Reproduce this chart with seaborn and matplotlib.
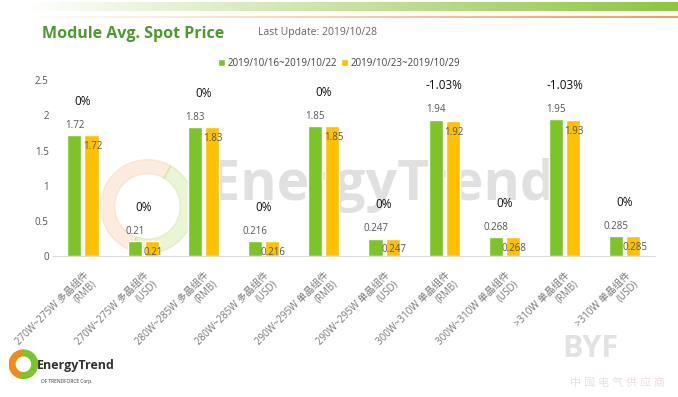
import numpy as np
import pandas as pd
import matplotlib
matplotlib.use('Agg')
from matplotlib import pyplot as plt
from matplotlib.patches import Wedge
import seaborn as sns

# data
categories = ['270W~275W 多晶组件\n(RMB)', '270W~275W 多晶组件\n(USD)',
              '280W~285W 多晶组件\n(RMB)', '280W~285W 多晶组件\n(USD)',
              '290W~295W 单晶组件\n(RMB)', '290W~295W 单晶组件\n(USD)',
              '300W~310W 单晶组件\n(RMB)', '300W~310W 单晶组件\n(USD)',
              '>310W 单晶组件\n(RMB)', '>310W 单晶组件\n(USD)']
week1 = [1.72, 0.21, 1.83, 0.216, 1.85, 0.247, 1.94, 0.268, 1.95, 0.285]
week2 = [1.72, 0.21, 1.83, 0.216, 1.85, 0.247, 1.92, 0.268, 1.93, 0.285]
changes = ['0%', '0%', '0%', '0%', '0%', '0%', '-1.03%', '0%', '-1.03%', '0%']
series_names = ['2019/10/16~2019/10/22', '2019/10/23~2019/10/29']
yticks = [0, 0.5, 1, 1.5, 2, 2.5]

GREEN = '#7DC42A'
YELLOW = '#FFC000'

sns.set_style('white')
plt.rcParams['font.family'] = ['Open Sans', 'Noto Sans CJK SC', 'DejaVu Sans']

df = pd.DataFrame({
    'cat': categories * 2,
    'val': week1 + week2,
    'series': [series_names[0]] * len(categories) + [series_names[1]] * len(categories),
})

fig = plt.figure(figsize=(6.78, 3.97), dpi=100)

# decorative stripes at top
grad = np.linspace(0, 1, 256).reshape(1, -1)
top = fig.add_axes([0.04, 0.972, 0.96, 0.022])
top.imshow(grad, aspect='auto', cmap=matplotlib.colors.LinearSegmentedColormap.from_list('g', ['#FFFFFF', '#8CC63F']))
top.axis('off')
line = fig.add_axes([0.04, 0.955, 0.96, 0.004])
line.imshow(grad, aspect='auto', cmap=matplotlib.colors.LinearSegmentedColormap.from_list('o', ['#FFFFFF', '#F0A050']))
line.axis('off')

ax = fig.add_axes([0.078, 0.355, 0.888, 0.443])

# watermark
fig.text(0.563, 0.534, 'EnergyTrend', fontsize=40, fontweight='bold', color='#BBBBBB',
         alpha=0.45, ha='center', va='center', zorder=0)
wm = fig.add_axes([0.145, 0.355, 0.145, 0.25])
wm.add_patch(Wedge((0, 0), 1, 60, 250, width=0.3, color='#F4A460', alpha=0.2))
wm.add_patch(Wedge((0, 0), 1, 250, 420, width=0.3, color='#9ACD32', alpha=0.2))
wm.set_xlim(-1.05, 1.05)
wm.set_ylim(-1.05, 1.05)
wm.set_aspect('equal')
wm.axis('off')
wm.set_zorder(0)
ax.set_zorder(1)
ax.patch.set_alpha(0)

sns.barplot(data=df, x='cat', y='val', hue='series', palette=[GREEN, YELLOW],
            width=0.565, gap=0.175, ax=ax, legend=True, saturation=1)

green_bars, yellow_bars = ax.containers[0], ax.containers[1]
for b, v in zip(green_bars, week1):
    ax.text(b.get_x() + b.get_width() / 2, v + 0.14, f'{v:g}', ha='center', va='center',
            fontsize=7, color='#555555')
for b, v in zip(yellow_bars, week2):
    ax.text(b.get_x() + b.get_width() / 2 + 0.02, v - 0.16, f'{v:g}', ha='center', va='center',
            fontsize=7, color='#555555')
for i, (c, a, b) in enumerate(zip(changes, week1, week2)):
    ax.text(i, max(a, b) + 0.48, c, ha='center', va='center', fontsize=8.5, color='#111111')

ax.set_ylim(0, 2.5)
ax.set_yticks(yticks)
ax.set_yticklabels([f'{t:g}' for t in yticks], fontsize=7, color='#555555')
ax.set_xlim(-0.5, 9.5)
ax.set_xticks(range(len(categories)))
ax.set_xticklabels(categories, rotation=45, ha='right', va='top', rotation_mode='anchor',
                   fontsize=7, color='#777777', linespacing=1.1)
ax.tick_params(axis='both', length=0, pad=3)
ax.tick_params(axis='x', pad=10)
ax.set_xlabel('')
ax.set_ylabel('')
for s in ['top', 'right', 'left']:
    ax.spines[s].set_visible(False)
ax.spines['bottom'].set_color('#DDDDDD')
ax.spines['bottom'].set_linewidth(0.8)

ax.legend(loc='center', bbox_to_anchor=(0.5, 0.841), bbox_transform=fig.transFigure,
          ncol=2, frameon=False, fontsize=7, handlelength=0.7, handleheight=0.7,
          handletextpad=0.3, columnspacing=0.4, labelcolor='#444444')

# titles
fig.text(0.062, 0.915, 'Module Avg. Spot Price', fontsize=11.5, fontweight='bold',
         color='#4E9A2F', ha='left', va='center')
fig.text(0.38, 0.918, 'Last Update: 2019/10/28', fontsize=7.5, color='#666666',
         ha='left', va='center')

# bottom-left logo
lg = fig.add_axes([0.012, 0.045, 0.045, 0.075])
lg.add_patch(Wedge((0, 0), 1, 90, 260, width=0.4, color='#F08A1C'))
lg.add_patch(Wedge((0, 0), 1, 260, 450, width=0.4, color='#7DC42A'))
lg.set_xlim(-1.05, 1.05)
lg.set_ylim(-1.05, 1.05)
lg.set_aspect('equal')
lg.axis('off')
fig.text(0.055, 0.08, 'EnergyTrend', fontsize=9, fontweight='bold', color='#333333',
         ha='left', va='center')
fig.text(0.06, 0.038, 'OF TRENDFORCE Corp.', fontsize=3.5, color='#333333',
         ha='left', va='center')

# bottom-right watermark
fig.text(0.83, 0.12, 'BYF', fontsize=22, fontweight='bold', color='#E2E2E2', ha='left', va='center')
fig.text(0.84, 0.035, '中 国 电 气 供 应 商', fontsize=8, color='#EEDDDD', ha='left', va='center',
         style='italic')

fig.savefig('out.png', dpi=100)
